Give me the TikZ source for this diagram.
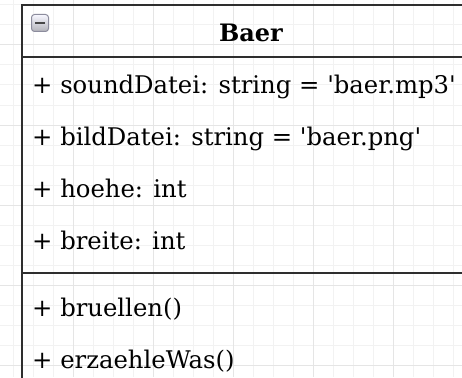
\documentclass[tikz,border=0pt]{standalone}
\usepackage{fontspec}
\setmainfont{DejaVu Serif}[Ligatures=TeXOff]
\begin{document}
\begin{tikzpicture}[x=1pt,y=-1pt,
  gridminor/.style={draw=black!5, line width=1pt},
  gridmajor/.style={draw=black!10, line width=1pt},
  border/.style={draw=black!82, line width=2pt},
  classpart/.style={border, anchor=north west, minimum width=458pt, inner sep=0pt, outer sep=0pt},
  member/.style={anchor=base west, inner sep=0pt, font=\fontsize{24.3}{28}\selectfont},
  classname/.style={anchor=base, inner sep=0pt, font=\bfseries\fontsize{24}{28}\selectfont},
  foldbox/.style={draw=blue!15!black!45, line width=1pt, rounded corners=3pt, top color=blue!3!white, bottom color=blue!10!black!30, minimum size=17pt, inner sep=0pt, outer sep=0pt, anchor=north west},
]
\useasboundingbox (0,0) rectangle (462,377);
\clip (0,0) rectangle (462,377);
\fill[white] (0,0) rectangle (462,377);

% background grid: fine lines every 20, coarse lines every 80
\foreach \x in {13,33,...,453} \draw[gridminor] (\x,0) -- (\x,377);
\foreach \y in {5,25,...,365} \draw[gridminor] (0,\y) -- (462,\y);
\foreach \x in {73,153,...,393} \draw[gridmajor] (\x,0) -- (\x,377);
\foreach \y in {45,125,...,365} \draw[gridmajor] (0,\y) -- (462,\y);

% class box: header, attributes and operations
\node[classpart, minimum height=52pt] (head) at (22,5) {};
\node[classpart, minimum height=420pt] (body) at (head.south west) {};
\coordinate (sepL) at (22,273);
\coordinate (sepR) at (480,273);
\draw[border] (sepL) -- (sepR);

% collapse toggle in the header
\node[foldbox] (fold) at (31.5,14.5) {};
\draw[line width=2.8pt, black!72] ([xshift=-5pt]fold.center) coordinate (mL) -- ([xshift=5pt]fold.center) coordinate (mR);

\node[classname] (title) at (251,42) {Baer};

\node[member] (a1) at (32,93)  {+ soundDatei: string = 'baer.mp3'};
\node[member] (a2) at (32,145) {+ bildDatei: string = 'baer.png'};
\node[member] (a3) at (32,197) {+ hoehe: int};
\node[member] (a4) at (32,249) {+ breite: int};
\node[member] (m1) at (32,316) {+ bruellen()};
\node[member] (m2) at (32,368) {+ erzaehleWas()};
\end{tikzpicture}
\end{document}
